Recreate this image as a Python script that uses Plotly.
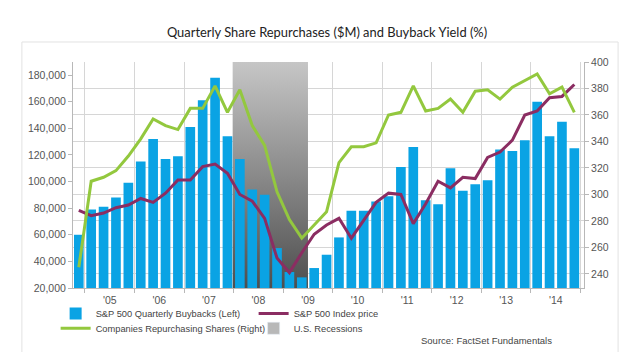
import plotly.graph_objects as go

# ---------------- data ----------------
first_year = 2004
first_quarter = 4
buybacks_musd = [60000, 79000, 81000, 88000, 99000,
                 115000, 132000, 117000, 119000,
                 141000, 161000, 178000, 134000,
                 117000, 94000, 90000, 50000,
                 32000, 28000, 35000, 45000,
                 58000, 78000, 78000, 85000,
                 89000, 111000, 126000, 86000,
                 83000, 110000, 93000, 98000,
                 101000, 124000, 123000, 131000,
                 160000, 134000, 145000, 125000]
companies_repurchasing = [245, 310, 313, 318, 329,
                          342, 357, 352, 349,
                          365, 365, 382, 362,
                          379, 352, 337, 302,
                          281, 267, 277, 287,
                          324, 336, 336, 339,
                          360, 362, 382, 363,
                          365, 372, 362, 378,
                          379, 372, 381, 386,
                          391, 376, 381, 362]
index_price_scaled = [288, 284, 286, 290, 292,
                      297, 294, 301, 311,
                      311, 321, 323, 316,
                      300, 295, 282, 252,
                      241, 256, 270, 277,
                      282, 267, 281, 294,
                      301, 300, 278, 293,
                      310, 305, 313, 312,
                      328, 332, 341, 360,
                      363, 373, 374, 383]
year_ticks = list(range(2005, 2015))
year_labels = ["'05", "'06", "'07", "'08", "'09", "'10", "'11", "'12", "'13", "'14"]
recession_start = 2007.98
recession_end = 2009.5

left_range = [20000, 189800]
right_range = [229.4, 400]
x_range = [2004.758, 2015.07]

# quarter positions (fractional years, centred in the quarter)
xq = []
for i in range(len(buybacks_musd)):
    q = first_quarter - 1 + i
    xq.append(first_year + q // 4 + ((q % 4) + 0.5) / 4)

BLUE = "#0aa3e4"
GREEN = "#93c83e"
PURPLE = "#8b2d62"
REC_LEGEND = "#b8b8b8"

fig = go.Figure()

# recession band on the base axis (drawn first, under the bars)
fig.add_trace(go.Scatter(
    x=[recession_start, recession_end, recession_end, recession_start, recession_start],
    y=[left_range[0], left_range[0], left_range[1], left_range[1], left_range[0]],
    mode="lines", line=dict(width=0), fill="toself",
    fillcolor="#9a9a9a",
    fillgradient=dict(type="vertical", colorscale=[[0, "#4e4e4e"], [1, "#c6c6c6"]]),
    name="U.S. Recessions", showlegend=False, hoverinfo="skip", yaxis="y"))

fig.add_trace(go.Bar(
    x=xq, y=buybacks_musd, width=0.195, marker=dict(color=BLUE, line=dict(width=0)),
    name="S&P 500 Quarterly Buybacks (Left)", legend="legend", yaxis="y2"))

fig.add_trace(go.Scatter(
    x=xq, y=index_price_scaled, mode="lines", line=dict(color=PURPLE, width=3),
    name="S&P 500 Index price", legend="legend", yaxis="y3"))

fig.add_trace(go.Scatter(
    x=xq, y=companies_repurchasing, mode="lines", line=dict(color=GREEN, width=3),
    name="Companies Repurchasing Shares (Right)", legend="legend2", yaxis="y3"))

# legend key for the recession band
fig.add_trace(go.Bar(
    x=[None], y=[None], marker=dict(color=REC_LEGEND), name="U.S. Recessions",
    legend="legend2", yaxis="y2", hoverinfo="skip"))

tick_font = dict(family="Liberation Sans, Arial, sans-serif", size=10.5, color="#555555")
legend_font = dict(family="Liberation Sans, Arial, sans-serif", size=9.3, color="#444444")
axis_line = "#b8b8b8"
grid = "#d6d6d6"

legend_common = dict(orientation="h", x=-0.034, xanchor="left", yanchor="top",
                     entrywidth=153, entrywidthmode="pixels", traceorder="normal",
                     font=legend_font, itemwidth=30, bgcolor="rgba(0,0,0,0)")

fig.update_layout(
    width=640, height=352,
    margin=dict(l=73, r=56, t=62, b=64, autoexpand=False),
    paper_bgcolor="white", plot_bgcolor="white",
    showlegend=True,
    barmode="overlay",
    xaxis=dict(range=x_range, tickmode="array", tickvals=[y + 0.5 for y in year_ticks],
               ticktext=year_labels, ticks="", showgrid=False, zeroline=False,
               showline=True, linecolor=axis_line, tickfont=tick_font,
               ticklabelstandoff=2,
               minor=dict(tickmode="array", tickvals=year_ticks + [2015], ticks="outside",
                          ticklen=4, tickcolor=axis_line, showgrid=True, gridcolor=grid,
                          gridwidth=1)),
    yaxis=dict(range=left_range, tickvals=list(range(20000, 180001, 20000)),
               tickformat=",d", showgrid=False, zeroline=False, showline=True,
               linecolor=axis_line, ticks="outside", ticklen=4, tickcolor=axis_line,
               tickfont=tick_font),
    yaxis2=dict(range=left_range, overlaying="y", side="left", visible=False),
    yaxis3=dict(range=right_range, overlaying="y", side="right",
                tickvals=list(range(240, 401, 20)), showgrid=True, gridcolor=grid,
                zeroline=False, showline=True, linecolor=axis_line, ticks="outside",
                ticklen=4, tickcolor=axis_line, tickfont=tick_font),
    title=dict(text="Quarterly Share Repurchases ($M) and Buyback Yield (%)",
               x=327 / 640, xanchor="center", y=1 - 32 / 352, yanchor="middle",
               font=dict(family="Lato, Open Sans, sans-serif", size=12.9, color="#222222")),
    legend=dict(legend_common, y=-0.0487),
    legend2=dict(legend_common, y=-0.114),
    annotations=[dict(text="Source: FactSet Fundamentals", xref="paper", yref="paper",
                      x=0.941, y=-0.2345, xanchor="right", yanchor="middle", showarrow=False,
                      font=dict(legend_font, size=9.5))],
    shapes=[dict(type="rect", xref="paper", yref="paper", x0=-0.1, x1=1.0667,
                 y0=-0.45, y1=1.0885, line=dict(color="#e2e2e2", width=1), layer="below")],
)

fig.write_html("out.html")
